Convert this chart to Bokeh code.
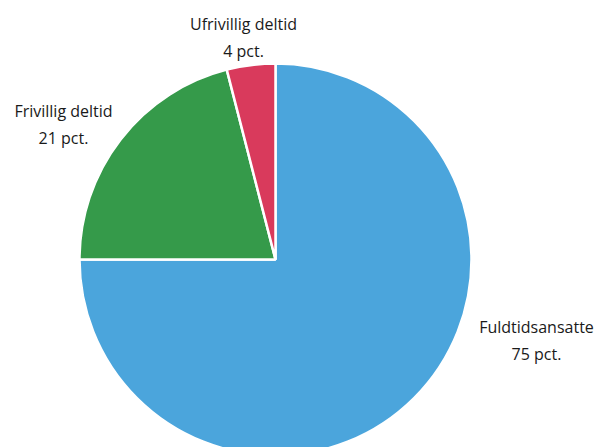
import math
from bokeh.plotting import figure
from bokeh.models import Range1d, ColumnDataSource
from bokeh.core.properties import value
from bokeh.embed import file_html
from bokeh.resources import INLINE

categories = ["Fuldtidsansatte", "Frivillig deltid", "Ufrivillig deltid"]
shares = [75, 21, 4]
colors = ["#4BA5DC", "#359A4A", "#D93A5C"]
pct_labels = ["75 pct.", "21 pct.", "4 pct."]

W, H = 596, 447
p = figure(width=W, height=H, output_backend="svg", toolbar_location=None,
           x_range=Range1d(0, W), y_range=Range1d(0, H), min_border=0)
p.axis.visible = False
p.grid.visible = False
p.outline_line_color = None

total = sum(shares)
starts, ends = [], []
cum = 0
for s in shares:
    starts.append(math.pi / 2 - 2 * math.pi * cum / total)
    cum += s
    ends.append(math.pi / 2 - 2 * math.pi * cum / total)

cx, cy, r = 275, H - 259, 196
src = ColumnDataSource(dict(start=starts, end=ends, color=colors))
p.wedge(x=cx, y=cy, radius=r, radius_units="screen", start_angle="start",
        end_angle="end", direction="clock", fill_color="color",
        line_color="white", line_width=2.5, source=src)

# label anchor positions (image px, top-left origin)
label_pos = [(536, 326), (63, 110), (243, 23)]
xs, ys, texts = [], [], []
for (ix, iy), name, pl in zip(label_pos, categories, pct_labels):
    xs += [ix, ix]
    ys += [H - iy, H - (iy + 27)]
    texts += [name, pl]
p.text(x=xs, y=ys, text=texts, text_align="center", text_baseline="middle",
       text_font=value("Open Sans"), text_font_size="16px", text_color="#1a1a1a")

open("out.html", "w").write(file_html(p, INLINE))
